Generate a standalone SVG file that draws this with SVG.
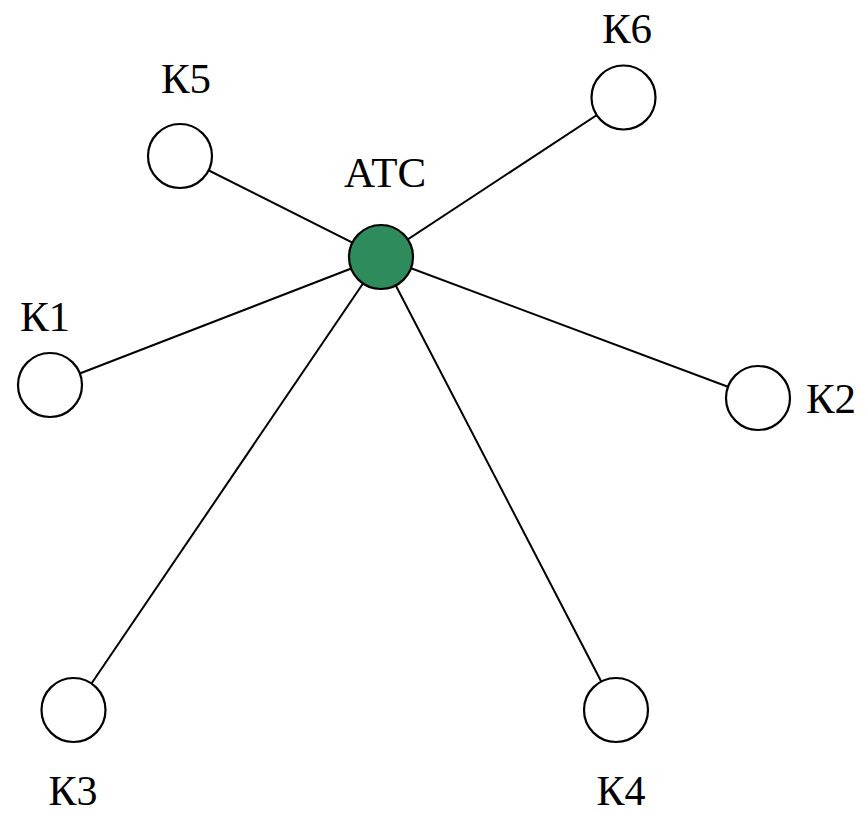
<svg xmlns="http://www.w3.org/2000/svg" width="868" height="815" viewBox="0 0 868 815">
<style>
.edge{stroke:#000;stroke-width:2;fill:none}
.node{fill:#fff;stroke:#000;stroke-width:2.2}
.hub{fill:#2e8b5c;stroke:#000;stroke-width:2.2}
.lbl{font-family:"Liberation Serif","Times New Roman",serif;font-size:43px;fill:#000;text-anchor:middle}
.low{font-size:42px}
</style>
<rect width="868" height="815" fill="#fff"/>
<g id="connectors">
<line class="edge" x1="381" y1="257" x2="180" y2="156"/>
<line class="edge" x1="381" y1="257" x2="623.5" y2="97.5"/>
<line class="edge" x1="381" y1="257" x2="50" y2="385"/>
<line class="edge" x1="381" y1="257" x2="758" y2="398"/>
<line class="edge" x1="381" y1="257" x2="73.5" y2="710"/>
<line class="edge" x1="381" y1="257" x2="616" y2="710"/>
</g>
<g id="ATS">
<circle class="hub" cx="381" cy="257" r="32"/>
<text class="lbl" x="385" y="187">АТС</text>
</g>
<g id="K5">
<circle class="node" cx="180" cy="156" r="32"/>
<text class="lbl" x="186" y="93">К5</text>
</g>
<g id="K6">
<circle class="node" cx="623.5" cy="97.5" r="32"/>
<text class="lbl" x="627" y="43">К6</text>
</g>
<g id="K1">
<circle class="node" cx="50" cy="385" r="32"/>
<text class="lbl" x="45" y="331">К1</text>
</g>
<g id="K2">
<circle class="node" cx="758" cy="398" r="32"/>
<text class="lbl" x="831" y="413">К2</text>
</g>
<g id="K3">
<circle class="node" cx="73.5" cy="710" r="32"/>
<text class="lbl low" x="73" y="805">К3</text>
</g>
<g id="K4">
<circle class="node" cx="616" cy="710" r="32"/>
<text class="lbl low" x="621" y="805">К4</text>
</g>
</svg>
